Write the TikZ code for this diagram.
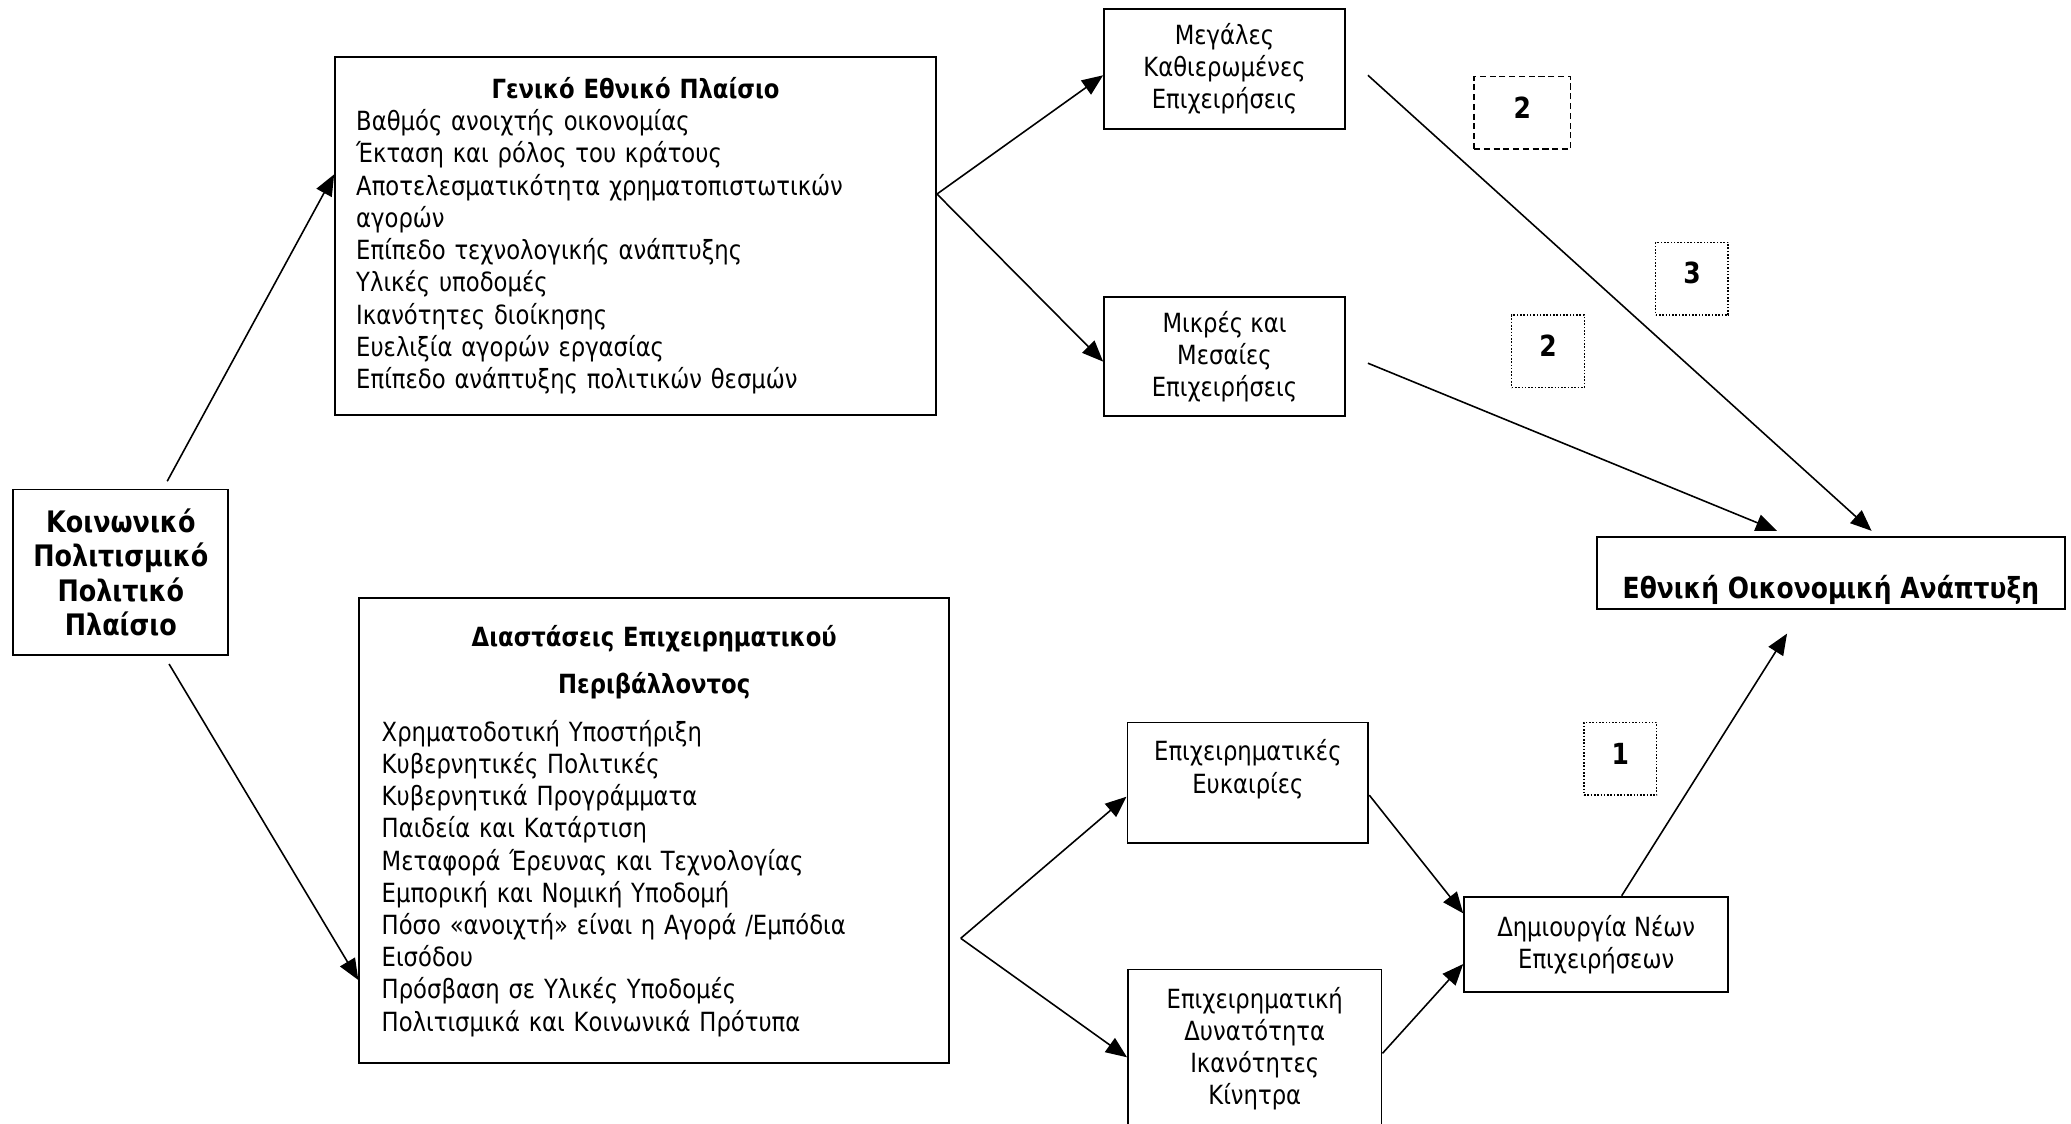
\documentclass[tikz,border=0pt]{standalone}
\usepackage{fontspec}
\setmainfont{DejaVu Sans}[FakeStretch=0.86]
\usetikzlibrary{arrows.meta}
\tikzset{
  pbox/.style={draw,line width=.7pt,inner sep=0pt,align=center,font=\fontsize{10}{12.2}\selectfont},
  listbox/.style={pbox,align=left,inner xsep=8pt},
  arr/.style={-{Triangle[length=8pt,width=6.5pt]},line width=.6pt},
  numbox/.style={draw,line width=.6pt,inner sep=0pt,minimum height=27.5pt,text height=8pt,text depth=4pt,font=\bfseries\fontsize{11}{13}\selectfont},
  dotbox/.style={numbox,minimum width=27.5pt,dash pattern=on .6pt off .65pt}
}
\begin{document}
\begin{tikzpicture}[x=.5pt,y=-.5pt]
			\useasboundingbox (0,0) rectangle (1568,851);
			\clip (0,0) rectangle (1568,851);
			\node[pbox,font=\bfseries\fontsize{11.2}{13}\selectfont,minimum width=81.4pt,minimum height=62.75pt] (kpp) at (91.5,433.3) {Κοινωνικό\\Πολιτισμικό\\Πολιτικό\\Πλαίσιο};%αριστερο πλαισιο
			\node[listbox,text width=211.5pt,minimum height=135.5pt] (gen) at (481.2,178.5) {\makebox[\linewidth]{\bfseries Γενικό Εθνικό Πλαίσιο}\\
				Βαθμός ανοιχτής οικονομίας\\
				Έκταση και ρόλος του κράτους\\
				Αποτελεσματικότητα χρηματοπιστωτικών\\
				αγορών\\
				Επίπεδο τεχνολογικής ανάπτυξης\\
				Υλικές υποδομές\\
				Ικανότητες διοίκησης\\
				Ευελιξία αγορών εργασίας\\
				Επίπεδο ανάπτυξης πολιτικών θεσμών};%γενικο πλαισιο
			\node[listbox,inner xsep=8.5pt,text width=206.3pt,minimum height=176pt] (diast) at (495.3,629) {\makebox[\linewidth]{\bfseries Διαστάσεις Επιχειρηματικού}\\[5.8pt]
				\makebox[\linewidth]{\bfseries Περιβάλλοντος}\\[5.8pt]
				Χρηματοδοτική Υποστήριξη\\
				Κυβερνητικές Πολιτικές\\
				Κυβερνητικά Προγράμματα\\
				Παιδεία και Κατάρτιση\\
				Μεταφορά Έρευνας και Τεχνολογίας\\
				Εμπορική και Νομική Υποδομή\\
				Πόσο «ανοιχτή» είναι η Αγορά /Εμπόδια\\
				Εισόδου\\
				Πρόσβαση σε Υλικές Υποδομές\\
				Πολιτισμικά και Κοινωνικά Πρότυπα};%διαστασεις
			\node[pbox,minimum width=91.2pt,minimum height=45.5pt] (meg) at (927.1,52) {Μεγάλες\\Καθιερωμένες\\Επιχειρήσεις};
			\node[pbox,minimum width=91.2pt,minimum height=45.2pt] (mik) at (927.1,270) {Μικρές και\\Μεσαίες\\Επιχειρήσεις};
			\node[pbox,minimum width=91.2pt,minimum height=45.5pt] (euk) at (944.8,592.5) {Επιχειρηματικές\\Ευκαιρίες\\\mbox{}};
			\node[pbox,minimum width=96pt,minimum height=70pt] (dyn) at (950,804) {Επιχειρηματική\\Δυνατότητα\\Ικανότητες\\Κίνητρα\\\mbox{}};
			\node[pbox,minimum width=100pt,minimum height=36.2pt] (dim) at (1208.5,715.1) {Δημιουργία Νέων\\Επιχειρήσεων};
			\node[pbox,font=\bfseries\fontsize{11}{13}\selectfont,minimum width=177.3pt,text height=23.25pt,text depth=4.25pt] (ethn) at (1386.2,433.8) {Εθνική Οικονομική Ανάπτυξη};%στοχος
			\node[numbox,minimum width=36.6pt,dash pattern=on 2.3pt off 1.4pt] (n2a) at (1152.6,85.5) {2};
			\foreach \nm/\px/\py/\lab in {n3/1281/211/3,n2b/1172/266/2,n1/1226.8/574.5/1}
				\node[dotbox] (\nm) at (\px,\py) {\lab};%τετραγωνα με αριθμους
			\coordinate (gs) at ([yshift=15.8pt]gen.east);
			\coordinate (ds) at ([xshift=4.05pt,yshift=-40.7pt]diast.east);
			\draw[arr] ([xshift=17.55pt,yshift=2.75pt]kpp.north)--([yshift=23.25pt]gen.west);
			\draw[arr] ([xshift=18.25pt,yshift=-3pt]kpp.south)--([yshift=-56.5pt]diast.west);
			\draw[arr] (gs)--([yshift=-2.5pt]meg.west);
			\draw[arr] (gs)--([yshift=-1.9pt]mik.west);
			\draw[arr] ([xshift=8.35pt,yshift=-2.5pt]meg.east)--([xshift=15.4pt,yshift=1.85pt]ethn.north);
			\draw[arr] ([xshift=8.35pt,yshift=-2.5pt]mik.east)--([xshift=-20.4pt,yshift=1.85pt]ethn.north);
			\draw[arr] (ds)--([yshift=-5.35pt]euk.west);
			\draw[arr] (ds)--([yshift=1.75pt]dyn.west);
			\draw[arr] ([yshift=-4.75pt]euk.east)--([yshift=11.8pt]dim.west);
			\draw[arr] ([yshift=3.25pt]dyn.east)--([yshift=-7.4pt]dim.west);
			\draw[arr] ([xshift=9.65pt]dim.north)--([xshift=-16.6pt,yshift=-8.85pt]ethn.south);
\end{tikzpicture}
\end{document}
